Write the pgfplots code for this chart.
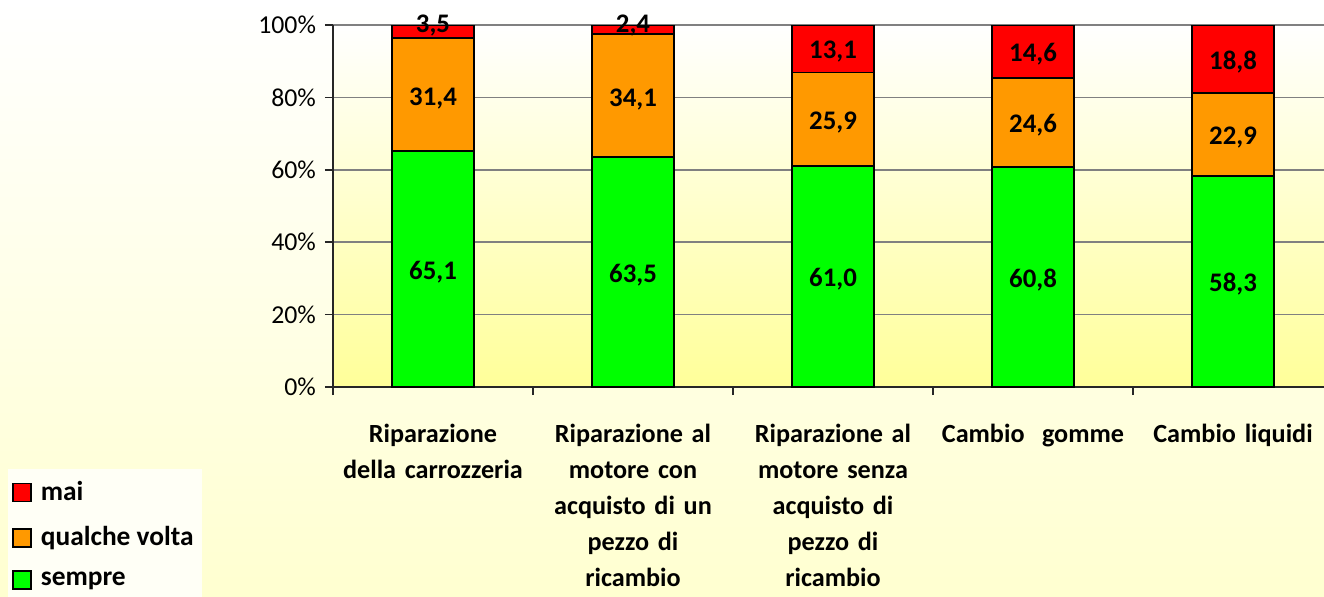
\documentclass[border=0pt]{standalone}
\usepackage{pgfplots}
\pgfplotsset{compat=1.18}
\usepackage{fontspec}
\setmainfont{Carlito}
\definecolor{cgreen}{RGB}{0,255,0}
\definecolor{corange}{RGB}{255,153,0}
\definecolor{cred}{RGB}{255,0,0}
\definecolor{bgbot}{RGB}{255,255,208}
\definecolor{plotbot}{RGB}{255,255,153}
\definecolor{gridc}{RGB}{128,128,128}
\definecolor{legbg}{RGB}{255,255,246}
\pgfplotsset{
  common/.style={
    at={(166.5pt,104.5pt)}, anchor=south west,
    scale only axis, width=495.5pt, height=181pt,
    xmin=-0.5, xmax=4.455, ymin=0, ymax=100,
  }
}
\begin{document}
\begin{tikzpicture}
\useasboundingbox (0,0) rectangle (662pt,298pt);
\shade[top color=white, bottom color=bgbot] (0,0) rectangle (662pt,298pt);
\begin{axis}[common,
  ybar stacked, bar width=41pt,
  axis background/.style={shade, top color=white, bottom color=plotbot},
  axis x line*=bottom, axis y line*=left,
  axis line style={black!85, line width=0.75pt},
  tick align=outside, major tick length=4pt,
  tick style={black!85, line width=0.75pt},
  ytick={0,20,...,100},
  yticklabel={\pgfmathprintnumber{\tick}\%},
  /pgf/number format/assume math mode=true,
  yticklabel style={font=\fontsize{12.9}{14}\selectfont, xshift=-1pt},
  ymajorgrids, grid style={gridc, line width=0.75pt},
  xtick={-0.5,0.5,...,3.5},
  xticklabels={{Riparazione\\della carrozzeria},
    {Riparazione al\\motore con\\acquisto di un\\pezzo di\\ricambio},
    {Riparazione al\\motore senza\\acquisto di\\pezzo di\\ricambio},
    {Cambio\ \ gomme},
    {Cambio liquidi}},
  xticklabel style={font=\bfseries\fontsize{13.1}{18}\selectfont, align=center, text width=100pt, xshift=50pt, yshift=-11pt},
  legend style={at={(axis description cs:-0.328,-0.577)}, anchor=south west, yshift=-2.5pt,
    fill=legbg, draw=none, font=\bfseries\fontsize{13.7}{15}\selectfont,
    row sep=7.5pt, inner xsep=2pt, inner ysep=4pt,
    /tikz/every odd column/.append style={column sep=2.5pt}},
  legend cell align=left, reverse legend,
  legend image code/.code={\draw[#1, line width=0.75pt] (1pt,-4.5pt) rectangle (10pt,4.5pt);},
]
\addplot[fill=cgreen, draw=black, line width=0.85pt] coordinates {(0,65.1) (1,63.5) (2,61.0) (3,60.8) (4,58.3)};
\addlegendentry{sempre}
\addplot[fill=corange, draw=black, line width=0.85pt] coordinates {(0,31.4) (1,34.1) (2,25.9) (3,24.6) (4,22.9)};
\addlegendentry{qualche volta}
\addplot[fill=cred, draw=black, line width=0.85pt] coordinates {(0,3.5) (1,2.4) (2,13.1) (3,14.6) (4,18.8)};
\addlegendentry{mai}
\end{axis}
\begin{axis}[common, hide axis, clip=false]
\addplot[draw=none, mark=none, nodes near coords, point meta=explicit symbolic,
  every node near coord/.append style={anchor=center, yshift=-1.5pt, font=\bfseries\fontsize{13.4}{15}\selectfont, text=black}]
  table[meta=lab] {
x y lab
0 32.55 65,1
1 31.75 63,5
2 30.5 61,0
3 30.4 60,8
4 29.15 58,3
0 80.6 31,4
1 80.35 34,1
2 73.95 25,9
3 73.1 24,6
4 69.75 22,9
0 100.8 3,5
1 100.8 2,4
2 93.45 13,1
3 92.7 14,6
4 90.6 18,8
};
\end{axis}
\end{tikzpicture}
\end{document}
